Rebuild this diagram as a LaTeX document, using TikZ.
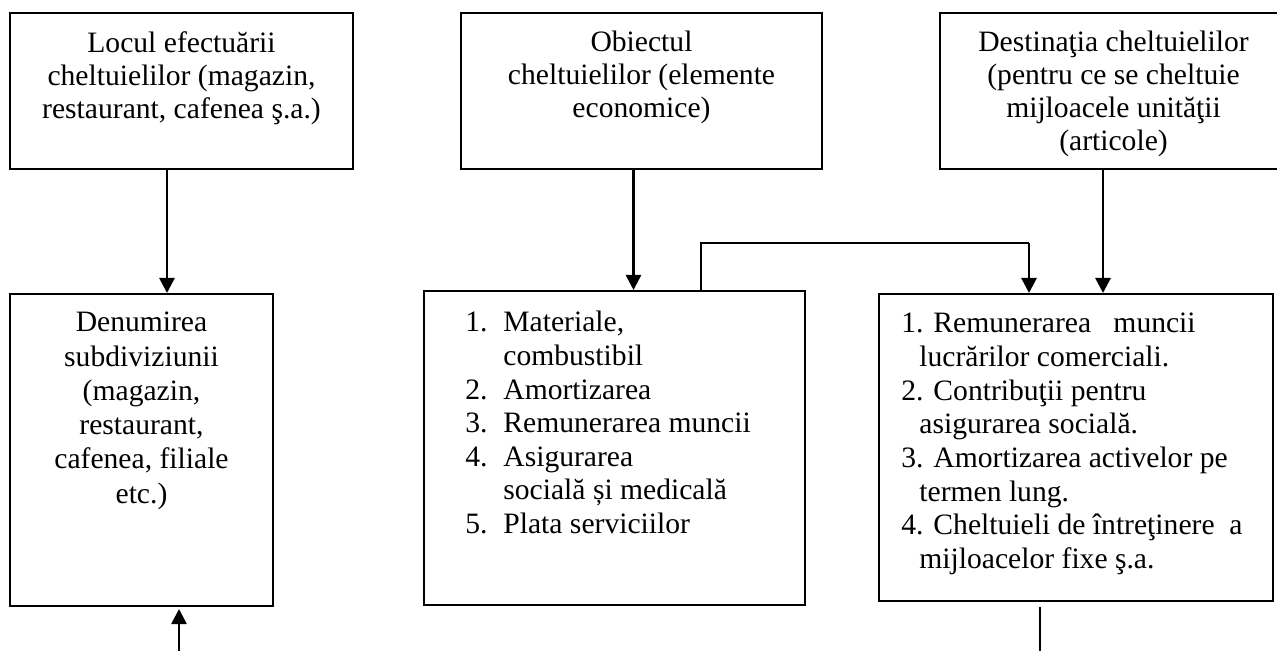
\documentclass[tikz,border=0pt]{standalone}
\usepackage{fontspec}
\setmainfont{Liberation Serif}
\usetikzlibrary{arrows.meta,fit}

\begin{document}
\begin{tikzpicture}[x=0.5pt,y=-0.5pt,
  box/.style={draw, line width=1pt, inner sep=0pt},
  boxtext/.style={font=\fontsize{14.8pt}{16.5pt}\selectfont, align=center, inner sep=0pt, anchor=north},
  listtext/.style={font=\fontsize{14.8pt}{16.8pt}\selectfont, align=left, inner sep=0pt, anchor=north west},
  arr/.style={line width=1.3pt, -{Triangle[length=7.5pt,width=7.5pt]}},
  link/.style={line width=1pt}]
\useasboundingbox (0,0) rectangle (1277,651);

% upper row: criteria
\node[box, fit={(10,13) (353,169)}] (loc) {};
\node[box, fit={(461,13) (822,169)}] (obj) {};
\node[box, fit={(940,13) (1287,169)}] (dest) {};

\node[boxtext] (locT) at (181.5,31) {Locul efectuării\\cheltuielilor (magazin,\\restaurant, cafenea ş.a.)};
\node[boxtext] (objT) at (641.5,31) {Obiectul\\cheltuielilor (elemente\\economice)};
\node[boxtext] (destT) at (1113.5,31) {Destinaţia cheltuielilor\\(pentru ce se cheltuie\\mijloacele unităţii\\(articole)};

% lower row: groupings
\node[box, fit={(10,294) (273,606)}] (den) {};
\node[box, fit={(424,291) (805,605)}] (ite) {};
\node[box, fit={(879,294) (1273,601)}] (art) {};

\node[boxtext, font=\fontsize{14.8pt}{17.1pt}\selectfont] (denT) at (141.5,312) {Denumirea\\subdiviziunii\\(magazin,\\restaurant,\\cafenea, filiale\\etc.)};

\node[listtext] (iteT) at (465,311) {%
\makebox[19pt][l]{1.}Materiale,\\
\hspace*{19pt}combustibil\\
\makebox[19pt][l]{2.}Amortizarea\\
\makebox[19pt][l]{3.}Remunerarea muncii\\
\makebox[19pt][l]{4.}Asigurarea\\
\hspace*{19pt}socială și medicală\\
\makebox[19pt][l]{5.}Plata serviciilor};

\node[listtext] (artT) at (901,313) {%
1. Remunerarea\ \ \ muncii\\
\hspace*{9pt}lucrărilor comerciali.\\
2. Contribuţii pentru\\
\hspace*{9pt}asigurarea socială.\\
3. Amortizarea activelor pe\\
\hspace*{9pt}termen lung.\\
4. Cheltuieli de întreţinere\ \ a\\
\hspace*{9pt}mijloacelor fixe ş.a.};

% connector positions
\coordinate (xa) at (167,0);
\coordinate (xb) at (633.5,0);
\coordinate (xc) at (1103,0);
\coordinate (xd) at (701,0);
\coordinate (xe) at (1029,0);
\coordinate (xf) at (179,0);
\coordinate (xg) at (1040,0);
\coordinate (ylink) at (0,243);
\coordinate (floorL) at (179,651);
\coordinate (floorR) at (1040,651);

\draw[arr] (loc.south -| xa) -- (den.north -| xa);
\draw[arr] (obj.south -| xb) -- (ite.north -| xb);
\draw[arr] (dest.south -| xc) -- (art.north -| xc);

\draw[link] (ite.north -| xd) -- (ylink -| xd) -- (ylink -| xe);
\draw[arr] (ylink -| xe) -- (art.north -| xe);

\draw[arr] (floorL) -- ([yshift=-1pt]den.south -| xf);
\draw[link] (floorR) -- ([yshift=-2.5pt]art.south -| xg);
\end{tikzpicture}
\end{document}
